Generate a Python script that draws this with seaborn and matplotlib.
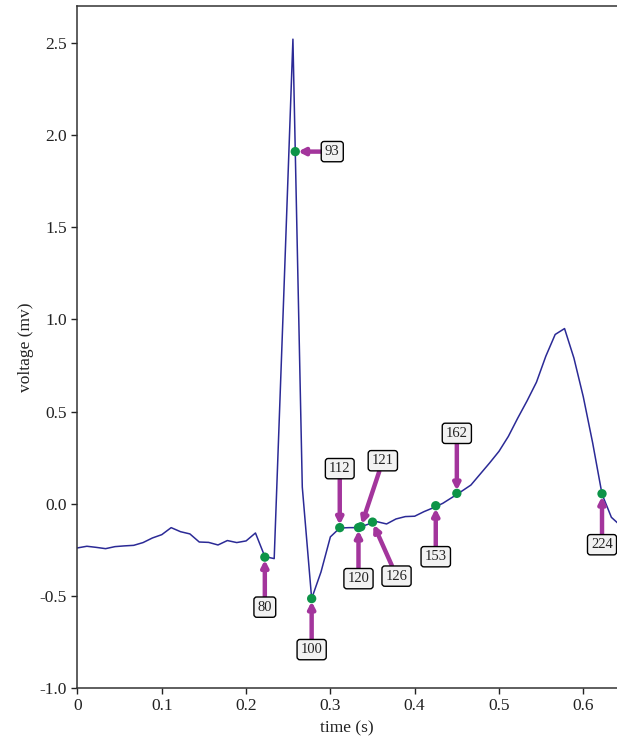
import numpy as np
import pandas as pd
import matplotlib
matplotlib.use("Agg")
import matplotlib.pyplot as plt
import seaborn as sns

# ------------------------------
# Data
# ------------------------------
fs = 360  # samples per second

# line vertices: sample index and voltage (mv)
line_idx = [0, 4, 8, 12, 16, 20, 24, 28, 32, 36, 40, 44, 48, 52, 56, 60,
            64, 68, 72, 76, 80, 84, 88, 92, 96, 100, 104, 108, 112, 116,
            120, 124, 128, 132, 136, 140, 144, 148, 152, 156, 160, 164,
            168, 172, 176, 180, 184, 188, 192, 196, 200, 204, 208, 212,
            216, 220, 224, 228, 232]
line_mv = [-0.240, -0.231, -0.237, -0.244, -0.233, -0.229, -0.226, -0.211,
           -0.186, -0.168, -0.130, -0.152, -0.164, -0.208, -0.210, -0.224,
           -0.200, -0.211, -0.202, -0.159, -0.287, -0.298, 1.10, 2.52,
           0.09, -0.515, -0.37, -0.180, -0.132, -0.130, -0.130, -0.112,
           -0.098, -0.110, -0.083, -0.070, -0.068, -0.043, -0.022, 0.002,
           0.034, 0.067, 0.101, 0.161, 0.221, 0.284, 0.365, 0.464, 0.558,
           0.659, 0.800, 0.918, 0.950, 0.790, 0.580, 0.330, 0.052, -0.074,
           -0.120]

# marked samples
mark_idx = [80, 93, 100, 112, 120, 121, 126, 153, 162, 224]
mark_mv = [-0.29, 1.91, -0.515, -0.13, -0.13, -0.125, -0.10, -0.011, 0.056, 0.054]

# label offsets from the marker (pixels)
label_offsets = {80: (0, -50), 93: (37, 0), 100: (0, -51), 112: (0, 59),
                 121: (22, 66), 120: (0, -51), 126: (24, -54), 153: (0, -51),
                 162: (0, 60), 224: (0, -51)}

ecg = pd.DataFrame({"time": np.array(line_idx) / fs, "voltage": line_mv})
marks = pd.DataFrame({"time": np.array(mark_idx) / fs, "voltage": mark_mv,
                      "label": mark_idx})

# ------------------------------
# Plot
# ------------------------------
sns.set_style("ticks")
plt.rcParams["font.family"] = ["Liberation Serif", "DejaVu Serif"]
plt.rcParams["axes.unicode_minus"] = False

fig = plt.figure(figsize=(6.17, 7.48), dpi=100)
ax = fig.add_axes([0.1256, 0.0802, 0.8744, 0.9118])

sns.lineplot(data=ecg, x="time", y="voltage", color="#2b2a96", lw=1.1, ax=ax)
sns.scatterplot(data=marks, x="time", y="voltage", color="#0d9448", s=45,
                edgecolor="none", zorder=5, ax=ax)

for _, row in marks.iterrows():
    dx, dy = label_offsets[int(row["label"])]
    ax.annotate(str(int(row["label"])), xy=(row["time"], row["voltage"]),
                xytext=(dx, dy), textcoords="offset pixels",
                ha="center", va="center", fontsize=10.5, color="#222222",
                bbox=dict(boxstyle="round,pad=0.25,rounding_size=0.2",
                          fc="#f2f2f2", ec="black", lw=1.0),
                arrowprops=dict(arrowstyle="-|>,head_length=0.35,head_width=0.18",
                                color="#a3359c", lw=3.2, shrinkA=0, shrinkB=2),
                zorder=6)

ax.set_xlim(0, 0.640)
ax.set_ylim(-1.0, 2.7)
ax.set_xticks([0, 0.1, 0.2, 0.3, 0.4, 0.5, 0.6])
ax.set_xticklabels(["0", "0.1", "0.2", "0.3", "0.4", "0.5", "0.6"])
ax.set_yticks([-1.0, -0.5, 0, 0.5, 1.0, 1.5, 2.0, 2.5])
ax.set_yticklabels(["-1.0", "-0.5", "0.0", "0.5", "1.0", "1.5", "2.0", "2.5"])
ax.tick_params(labelsize=12.5, length=4, width=1, colors="#222222")
ax.set_xlabel("time (s)", fontsize=12.5, color="#222222")
ax.set_ylabel("voltage (mv)", fontsize=12.5, color="#222222")
ax.spines["right"].set_visible(False)
for s in ["left", "bottom", "top"]:
    ax.spines[s].set_color("#333333")
    ax.spines[s].set_linewidth(1.1)

fig.savefig("out.png", dpi=100)
